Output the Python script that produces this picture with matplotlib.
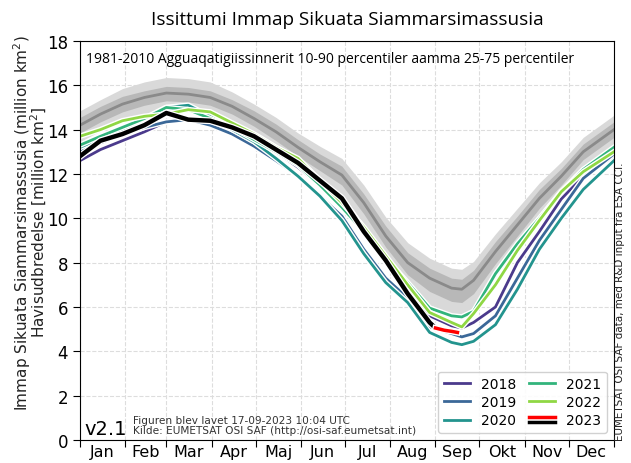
import numpy as np
import matplotlib
matplotlib.use("Agg")
import matplotlib.pyplot as plt
import matplotlib.patheffects as pe
from matplotlib.lines import Line2D
from matplotlib.legend_handler import HandlerBase

# dag i aaret hvor vaerdierne er aflaest
dage = [1, 15, 30, 45, 60, 75, 90, 105, 120, 135, 150, 165, 180, 195, 210,
        225, 240, 255, 262, 270, 285, 300, 315, 330, 345, 366]

# klimatologi 1981-2010 (million km2)
median = [14.2, 14.7, 15.15, 15.45, 15.65, 15.6, 15.45, 15.05, 14.5, 13.9, 13.2, 12.55, 11.95,
          10.7, 9.2, 8.0, 7.3, 6.85, 6.8, 7.2, 8.5, 9.7, 10.9, 11.9, 13.0, 14.0]
p10 = [13.45, 13.95, 14.35, 14.65, 14.85, 14.8, 14.7, 14.35, 13.8, 13.2, 12.45, 11.75, 11.1,
       9.75, 8.2, 6.9, 6.1, 5.65, 5.6, 6.0, 7.4, 8.7, 10.0, 11.1, 12.25, 13.25]
p25 = [13.85, 14.35, 14.8, 15.1, 15.3, 15.25, 15.1, 14.7, 14.15, 13.5, 12.8, 12.15, 11.5,
       10.2, 8.7, 7.45, 6.7, 6.25, 6.2, 6.6, 7.95, 9.2, 10.45, 11.5, 12.65, 13.65]
p75 = [14.55, 15.05, 15.5, 15.75, 15.95, 15.9, 15.75, 15.35, 14.85, 14.25, 13.55, 12.9, 12.35,
       11.1, 9.65, 8.45, 7.75, 7.3, 7.25, 7.65, 8.95, 10.1, 11.3, 12.25, 13.35, 14.35]
p90 = [14.85, 15.35, 15.85, 16.15, 16.35, 16.3, 16.15, 15.7, 15.15, 14.55, 13.85, 13.25, 12.7,
       11.5, 10.05, 8.9, 8.2, 7.75, 7.7, 8.05, 9.3, 10.45, 11.6, 12.55, 13.65, 14.65]

# tidligere aar
aar = ["2018", "2019", "2020", "2021", "2022"]
farver = ["#4b3a8c", "#3b6898", "#23948e", "#32b47c", "#8fd744"]
v2018 = [12.6, 13.1, 13.5, 13.9, 14.35, 14.45, 14.3, 13.95, 13.6, 13.0, 12.3, 11.5, 10.7,
         9.5, 8.0, 6.8, 5.6, 5.15, 5.05, 5.3, 6.0, 8.0, 9.4, 10.87, 11.9, 12.8]
v2019 = [13.0, 13.4, 13.8, 14.1, 14.35, 14.45, 14.2, 13.8, 13.25, 12.6, 11.9, 11.0, 10.1,
         8.6, 7.3, 6.4, 5.1, 4.8, 4.65, 4.8, 5.6, 7.3, 9.0, 10.4, 11.8, 12.9]
v2020 = [13.2, 13.6, 14.0, 14.5, 15.0, 15.1, 14.6, 14.0, 13.45, 12.7, 11.9, 11.0, 9.9,
         8.4, 7.1, 6.2, 4.85, 4.4, 4.3, 4.45, 5.2, 6.8, 8.6, 10.0, 11.3, 12.6]
v2021 = [13.3, 13.7, 14.1, 14.5, 15.0, 14.9, 14.5, 14.1, 13.55, 13.0, 12.4, 11.5, 10.5,
         9.4, 8.2, 7.1, 5.95, 5.6, 5.55, 5.8, 7.5, 8.85, 10.0, 11.2, 12.2, 13.2]
v2022 = [13.7, 14.0, 14.4, 14.6, 14.7, 14.9, 14.8, 14.3, 13.8, 13.2, 12.7, 11.7, 10.7,
         9.6, 8.3, 7.0, 5.75, 5.3, 5.1, 5.7, 7.0, 8.55, 9.9, 11.2, 12.1, 13.0]
serier = [v2018, v2019, v2020, v2021, v2022]

# 2023 (sort) og de sidste dage (roed)
dage2023 = [1, 15, 30, 45, 60, 75, 90, 105, 120, 135, 150, 165, 180, 195, 210, 225, 240, 244]
v2023 = [12.8, 13.5, 13.8, 14.2, 14.75, 14.45, 14.4, 14.1, 13.7, 13.1, 12.5, 11.7, 10.9,
         9.4, 8.1, 6.6, 5.3, 5.05]
dage_roed = [244, 250, 255, 259]
v_roed = [5.05, 4.95, 4.9, 4.85]

maaneder = ["Jan", "Feb", "Mar", "Apr", "Maj", "Jun", "Jul", "Aug", "Sep", "Okt", "Nov", "Dec"]
maaned_start = [1, 32, 60, 91, 121, 152, 182, 213, 244, 274, 305, 335, 366]


class RoedSort(HandlerBase):
    # legend-symbol med roed streg over sort streg
    def create_artists(self, legend, orig, xd, yd, w, h, fs, trans):
        y = h / 2 - yd
        l1 = Line2D([-xd, w - xd], [y + 1.8, y + 1.8], color="red", lw=2.5, transform=trans)
        l2 = Line2D([-xd, w - xd], [y - 1.8, y - 1.8], color="black", lw=2.5, transform=trans)
        return [l1, l2]


fig = plt.figure(figsize=(6.31, 4.64), dpi=100)
ax = fig.add_axes([0.1268, 0.0496, 0.8462, 0.86])

ax.fill_between(dage, p10, p90, color="#d9d9d9", lw=0)
ax.fill_between(dage, p25, p75, color="#b8b8b8", lw=0)
ax.plot(dage, median, color="#8a8a8a", lw=2)

hvid = [pe.Stroke(linewidth=4, foreground="white"), pe.Normal()]
handles = []
for navn, f, v in zip(aar, farver, serier):
    l, = ax.plot(dage, v, color=f, lw=2, path_effects=hvid, label=navn)
    handles.append(l)

ax.plot(dage2023, v2023, color="black", lw=3.2,
        path_effects=[pe.Stroke(linewidth=5, foreground="white"), pe.Normal()])
ax.plot(dage_roed, v_roed, color="red", lw=2.5,
        path_effects=[pe.Stroke(linewidth=4.5, foreground="white"), pe.Normal()])
h2023 = Line2D([], [], color="black")

ax.set_xlim(1, 366)
ax.set_ylim(0, 18)
ax.set_yticks(np.arange(0, 19, 2))
ax.set_xticks(maaned_start)
ax.set_xticklabels([])
midt = [(maaned_start[i] + maaned_start[i + 1]) / 2 for i in range(12)]
ax.set_xticks(midt, minor=True)
ax.set_xticklabels(maaneder, minor=True, fontsize=11.5)
ax.tick_params(axis="x", which="minor", length=0, pad=3)
ax.tick_params(axis="x", which="major", length=5)
ax.tick_params(axis="y", labelsize=12, length=5)
ax.grid(True, which="major", color="#dddddd", linestyle="--", lw=0.8)
ax.set_axisbelow(True)

ax.set_title("Issittumi Immap Sikuata Siammarsimassusia", fontsize=13.6,
             family="Open Sans", pad=12)
ax.text(0.012, 0.955, "1981-2010 Agguaqatigiissinnerit 10-90 percentiler aamma 25-75 percentiler",
        transform=ax.transAxes, fontsize=10, family="Open Sans", va="center")
ax.text(0.008, 0.005, "v2.1", transform=ax.transAxes, fontsize=14, va="bottom")
ax.text(0.1, 0.012, "Figuren blev lavet 17-09-2023 10:04 UTC\nKilde: EUMETSAT OSI SAF (http://osi-saf.eumetsat.int)",
        transform=ax.transAxes, fontsize=7.6, va="bottom", linespacing=1.0, color="#333333")

fig.text(0.062, 0.52, "Havisudbredelse [million km$^2$]", rotation=90, fontsize=11,
         ha="center", va="center", color="#222222")
fig.text(0.035, 0.52, "Immap Sikuata Siammarsimassusia (million km$^2$)", rotation=90,
         fontsize=11, ha="center", va="center", color="#222222")
fig.text(0.99, 0.05, "EUMETSAT OSI SAF data, med R&D input fra ESA CCI.", rotation=90,
         fontsize=7.5, ha="right", va="bottom", color="#222222")

alle = handles + [h2023]
ax.legend(alle, aar + ["2023"], ncol=2, loc="lower right", fontsize=10,
          handler_map={h2023: RoedSort()}, handlelength=1.9, columnspacing=0.9,
          labelspacing=0.3, borderaxespad=0.5, framealpha=0.9)

fig.savefig("out.png", dpi=100)
